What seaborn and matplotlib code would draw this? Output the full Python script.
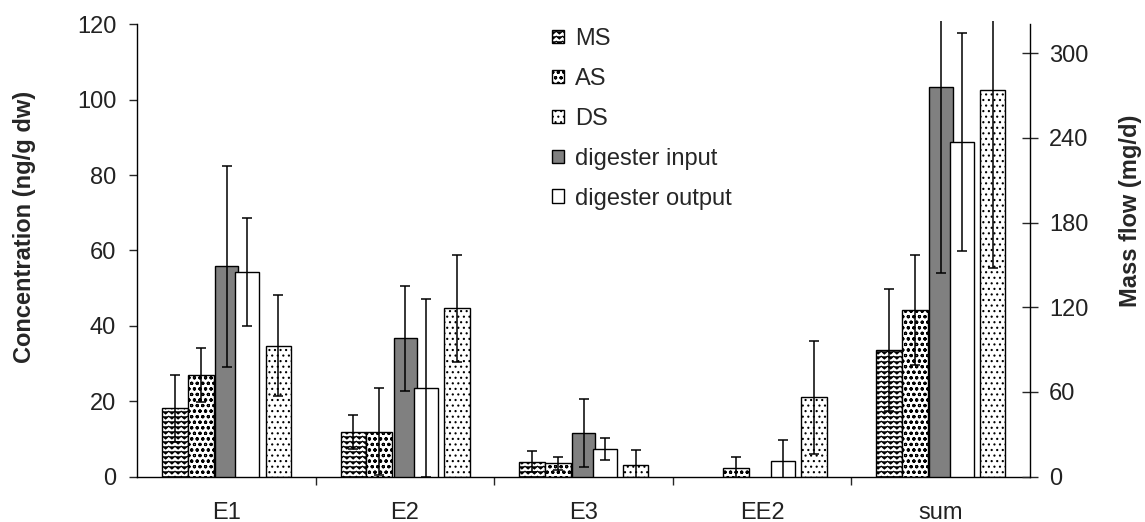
import warnings
import numpy as np
import matplotlib
matplotlib.use("Agg")
import matplotlib.pyplot as plt
import matplotlib.hatch as mhatch
import seaborn as sns

warnings.filterwarnings("ignore")

# data
categories = ["E1", "E2", "E3", "EE2", "sum"]

# concentration (ng/g dw), left axis
ms = [18.1, 11.9, 4.0, 0.0, 33.6]
ms_err = [8.9, 4.5, 2.8, 0.0, 16.2]
as_ = [27.0, 11.9, 3.5, 2.2, 44.2]
as_err = [7.1, 11.5, 1.6, 2.9, 14.6]
ds = [34.7, 44.7, 3.1, 21.1, 102.6]
ds_err = [13.4, 14.2, 4.0, 15.0, 47.2]

# mass flow (mg/d), right axis
dig_in = [149, 98, 31, 0, 276]
dig_in_err = [71, 37, 24, 0, 132]
dig_out = [145, 63, 19.5, 11, 237]
dig_out_err = [38, 63, 8, 15, 77]


# zigzag hatch for the MS bars (not one of matplotlib's built-in hatches)
class ZigZagHatch(mhatch.HatchPatternBase):
    def __init__(self, hatch, density):
        self.num_rows = hatch.count("z") * 20
        self.num_cols = 16
        self.num_vertices = self.num_rows * (2 * self.num_cols + 1)

    def set_vertices_and_codes(self, vertices, codes):
        n = 2 * self.num_cols + 1
        xs = np.linspace(0, 1, n)
        amp = 0.55 / max(self.num_rows, 1)
        for i in range(self.num_rows):
            y0 = (i + 0.75) / self.num_rows
            sl = slice(i * n, (i + 1) * n)
            vertices[sl, 0] = xs
            vertices[sl, 1] = y0 - amp * (np.arange(n) % 2)
            codes[sl] = mhatch.Path.LINETO
            codes[i * n] = mhatch.Path.MOVETO


mhatch._hatch_types.append(ZigZagHatch)

sns.set_style("ticks")
plt.rcParams["font.family"] = ["Liberation Sans", "DejaVu Sans"]
plt.rcParams["font.size"] = 17
plt.rcParams["hatch.linewidth"] = 0.8

fig = plt.figure(figsize=(11.45, 5.22), dpi=100)
ax = fig.add_axes([0.1197, 0.0868, 0.7799, 0.8739])
ax2 = ax.twinx()

x = np.arange(len(categories))
factor = 2.67  # mg/d per ng/g dw on the two scales

series = [
    # ax, values, errors, offset, width, fill, hatch, label
    (ax, ms, ms_err, -0.289, 0.143, "white", "z", "MS"),
    (ax, as_, as_err, -0.144, 0.146, "white", "ooo", "AS"),
    (ax, ds, ds_err, 0.291, 0.143, "white", "...", "DS"),
    (ax2, dig_in, dig_in_err, 0.001, 0.13, "#808080", None, "digester input"),
    (ax2, dig_out, dig_out_err, 0.118, 0.134, "white", None, "digester output"),
]

handles = []
for a, vals, errs, off, w, fc, hatch, label in series:
    vals = np.asarray(vals, dtype=float)
    errs = np.asarray(errs, dtype=float)
    keep = vals > 0
    bars = a.bar(x[keep] + off, vals[keep], width=w, color=fc,
                 edgecolor="black", linewidth=1.0, hatch=hatch, label=label)
    a.errorbar(x[keep] + off, vals[keep], yerr=errs[keep], fmt="none",
               ecolor="black", elinewidth=1.1, capsize=3.6, capthick=1.1)
    handles.append(bars)

# left axis
ax.set_xlim(-0.5, 4.5)
ax.set_ylim(0, 121)
ax.set_yticks(range(0, 121, 20))
ax.spines["left"].set_bounds(0, 120)
ax.spines["top"].set_visible(False)
ax.spines["right"].set_visible(False)
ax.tick_params(axis="y", direction="out", length=6, width=1, pad=9,
               labelcolor="#222222")
ax.set_ylabel("Concentration (ng/g dw)", fontweight="bold")
ax.yaxis.set_label_coords(-0.113, 0.548)

# categories: labels at centres, tick marks between groups
ax.set_xticks(x)
ax.set_xticklabels(categories)
ax.set_xticks(x[:-1] + 0.5, minor=True)
ax.tick_params(axis="x", which="major", length=0, pad=18, labelcolor="#222222")
ax.tick_params(axis="x", which="minor", direction="out", length=6, width=1)

# right axis
ax2.set_ylim(0, 121 * factor)
ax2.set_yticks(range(0, 301, 60))
ax2.spines["right"].set_bounds(0, 120 * factor)
ax2.spines["top"].set_visible(False)
ax2.spines["left"].set_visible(False)
ax2.spines["bottom"].set_visible(False)
ax2.tick_params(axis="y", direction="inout", length=11, width=1, pad=8,
                labelcolor="#222222")
ax2.set_ylabel("Mass flow (mg/d)", fontweight="bold", rotation=90)
ax2.yaxis.set_label_coords(1.1, 0.582)

for a in (ax, ax2):
    for s in a.spines.values():
        s.set_color("black")
        s.set_linewidth(1.0)

ax2.legend(handles, [h.get_label() for h in handles], loc="upper left",
           bbox_to_anchor=(0.4644, 0.984), frameon=False, borderpad=0,
           borderaxespad=0, handlelength=0.5, handleheight=0.5,
           handletextpad=0.5, labelspacing=0.76, fontsize=17)

fig.savefig("out.png", dpi=100)
